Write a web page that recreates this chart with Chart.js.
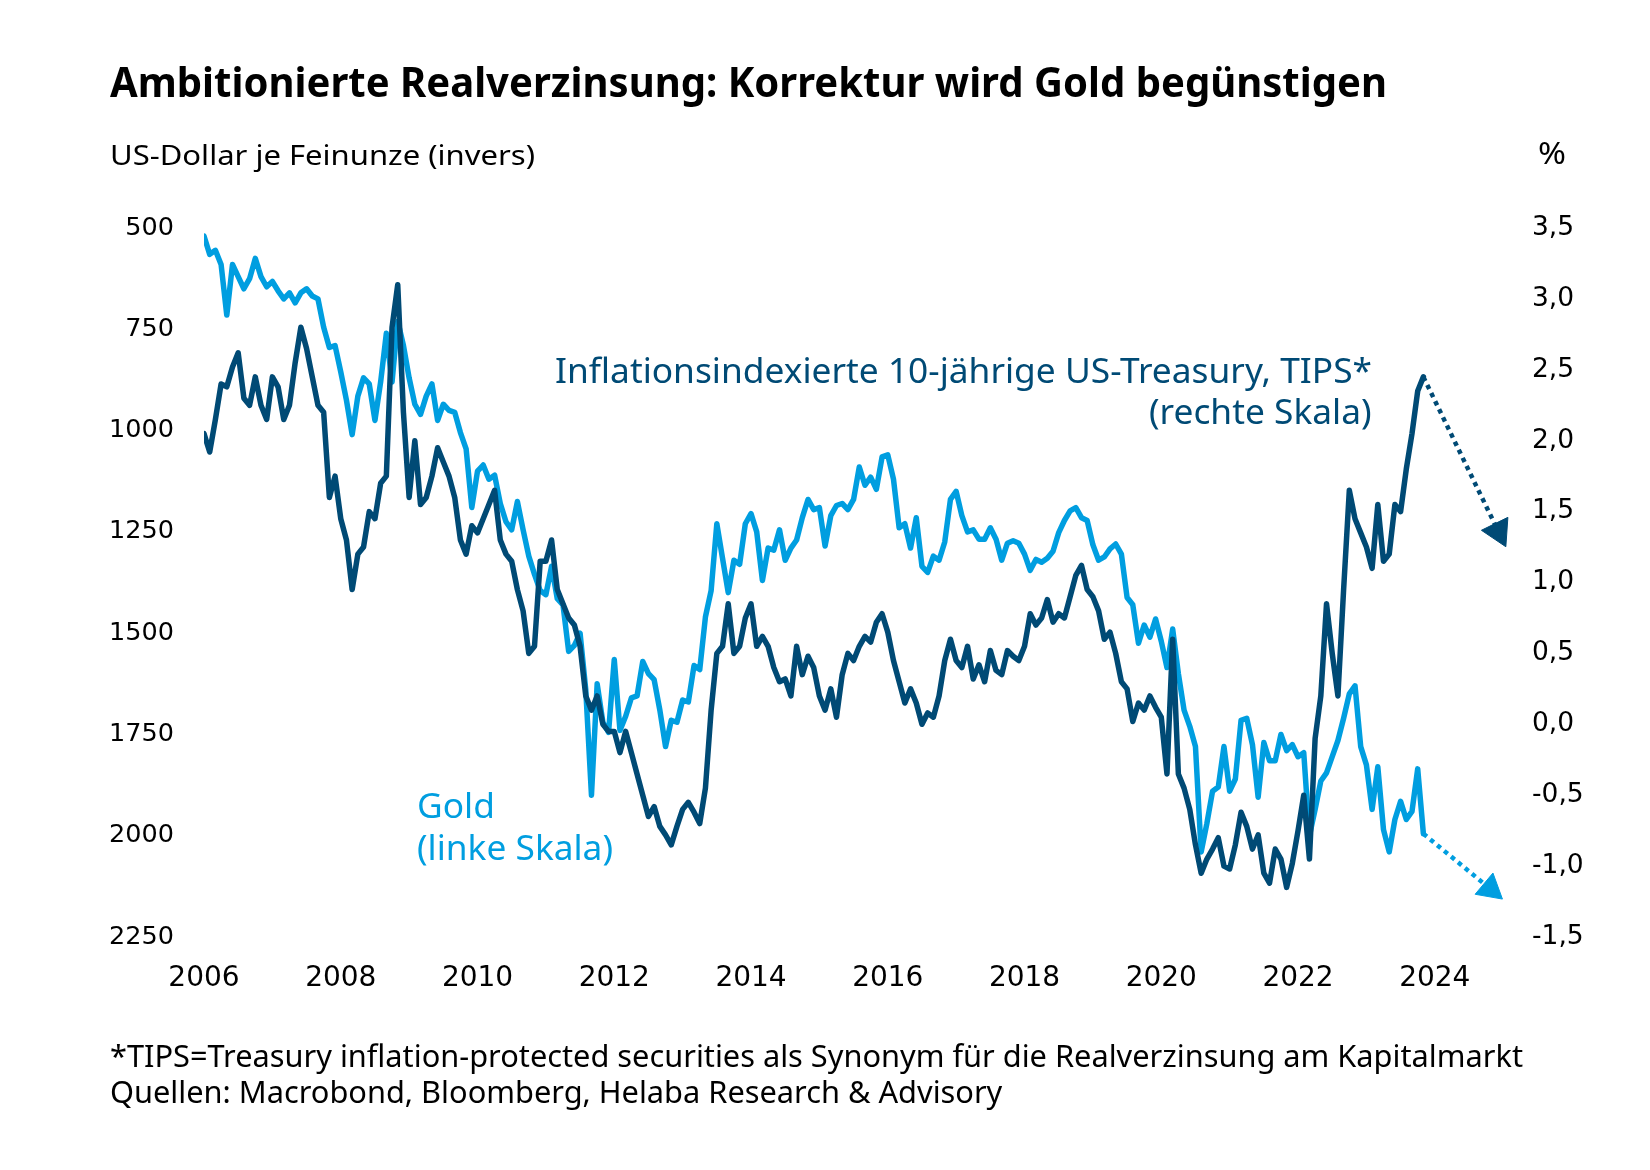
<!DOCTYPE html>
<html lang="de">
<head>
<meta charset="utf-8">
<title>Ambitionierte Realverzinsung: Korrektur wird Gold begünstigen</title>
<script src="https://cdn.jsdelivr.net/npm/chart.js@4.4.1/dist/chart.umd.min.js"></script>
<style>
  html, body { margin: 0; padding: 0; background: #fff; }
  #wrap { position: relative; width: 1650px; height: 1170px; overflow: hidden; background: #fff; }
  #c { position: absolute; left: 0; top: 0; }
  .t { position: absolute; white-space: nowrap; line-height: 1.2; transform-origin: 0 0; font-family: "Noto Sans", "Open Sans", sans-serif; }
</style>
</head>
<body>
<div id="wrap"><canvas id="c" width="1650" height="1170"></canvas></div>
<script>
// ---------------- data (monthly, first value = Jan 2006) ----------------
const firstYear = 2006;
const monthsPerYear = 12;

const yearTicks = [2006, 2008, 2010, 2012, 2014, 2016, 2018, 2020, 2022, 2024];
const goldTicks = [500, 750, 1000, 1250, 1500, 1750, 2000, 2250];
const tipsTicks = [-1.5, -1.0, -0.5, 0.0, 0.5, 1.0, 1.5, 2.0, 2.5, 3.0, 3.5];

// Inflationsindexierte 10-jährige US-Treasury (TIPS), % (rechte Skala)
const tipsValues = [
  2.05, 1.92, 2.15, 2.40, 2.38, 2.52, 2.62, 2.30, 2.25, 2.45, 2.25, 2.15,   // 2006
  2.45, 2.38, 2.15, 2.25, 2.55, 2.80, 2.65, 2.45, 2.25, 2.20, 1.60, 1.75,   // 2007
  1.45, 1.30, 0.95, 1.20, 1.25, 1.50, 1.45, 1.70, 1.75, 2.80, 3.10, 2.20,   // 2008
  1.60, 2.00, 1.55, 1.60, 1.75, 1.95, 1.85, 1.75, 1.60, 1.30, 1.20, 1.40,   // 2009
  1.35, 1.45, 1.55, 1.65, 1.30, 1.20, 1.15, 0.95, 0.80, 0.50, 0.55, 1.15,   // 2010
  1.15, 1.30, 0.95, 0.85, 0.75, 0.70, 0.55, 0.20, 0.10, 0.20, 0.00, -0.05,  // 2011
  -0.05, -0.20, -0.05, -0.20, -0.35, -0.50, -0.65, -0.58, -0.72, -0.78, -0.85, -0.72, // 2012
  -0.60, -0.55, -0.62, -0.70, -0.45, 0.10, 0.50, 0.55, 0.85, 0.50, 0.55, 0.75,  // 2013
  0.85, 0.55, 0.62, 0.55, 0.40, 0.30, 0.32, 0.20, 0.55, 0.35, 0.48, 0.40,   // 2014
  0.20, 0.10, 0.25, 0.05, 0.35, 0.50, 0.45, 0.55, 0.62, 0.58, 0.72, 0.78,   // 2015
  0.65, 0.45, 0.30, 0.15, 0.25, 0.15, 0.00, 0.08, 0.05, 0.20, 0.45, 0.60,   // 2016
  0.45, 0.40, 0.55, 0.32, 0.42, 0.30, 0.52, 0.38, 0.35, 0.52, 0.48, 0.45,   // 2017
  0.55, 0.78, 0.70, 0.75, 0.88, 0.72, 0.78, 0.75, 0.90, 1.05, 1.12, 0.95,   // 2018
  0.90, 0.80, 0.60, 0.65, 0.50, 0.30, 0.25, 0.02, 0.15, 0.10, 0.20, 0.12,   // 2019
  0.05, -0.35, 0.60, -0.35, -0.45, -0.60, -0.85, -1.05, -0.95, -0.88, -0.80, -1.00, // 2020
  -1.02, -0.85, -0.62, -0.72, -0.88, -0.78, -1.05, -1.12, -0.88, -0.95, -1.15, -0.98, // 2021
  -0.75, -0.50, -0.95, -0.10, 0.20, 0.85, 0.50, 0.20, 0.95, 1.65, 1.45, 1.35,  // 2022
  1.25, 1.10, 1.55, 1.15, 1.20, 1.55, 1.50, 1.80, 2.05, 2.35, 2.45             // 2023
];

// Gold, US-Dollar je Feinunze (linke Skala, invers)
const goldValues = [
  520, 565, 555, 590, 715, 590, 620, 650, 625, 575, 620, 645,               // 2006
  632, 655, 675, 660, 685, 660, 650, 668, 675, 745, 795, 790,               // 2007
  855, 925, 1010, 915, 870, 885, 975, 880, 760, 880, 730, 790,              // 2008
  870, 935, 960, 915, 885, 975, 935, 950, 955, 1005, 1045, 1190,            // 2009
  1100, 1085, 1120, 1110, 1180, 1225, 1245, 1175, 1245, 1310, 1355, 1395,   // 2010
  1405, 1335, 1415, 1430, 1545, 1530, 1500, 1640, 1900, 1625, 1720, 1745,   // 2011
  1565, 1740, 1705, 1660, 1655, 1570, 1600, 1615, 1690, 1780, 1715, 1720,   // 2012
  1665, 1670, 1580, 1590, 1460, 1395, 1230, 1315, 1400, 1320, 1330, 1230,   // 2013
  1205, 1250, 1370, 1290, 1295, 1245, 1320, 1290, 1270, 1215, 1170, 1195,   // 2014
  1190, 1285, 1210, 1185, 1180, 1195, 1170, 1090, 1135, 1115, 1145, 1065,   // 2015
  1060, 1120, 1240, 1230, 1290, 1215, 1335, 1350, 1310, 1320, 1275, 1170,   // 2016
  1150, 1210, 1250, 1245, 1268, 1268, 1240, 1268, 1320, 1278, 1272, 1278,   // 2017
  1305, 1345, 1318, 1325, 1315, 1298, 1252, 1222, 1198, 1190, 1215, 1222,   // 2018
  1282, 1320, 1312, 1292, 1280, 1305, 1412, 1430, 1525, 1480, 1510, 1465,   // 2019
  1520, 1585, 1490, 1600, 1690, 1730, 1780, 2040, 1970, 1890, 1880, 1780,   // 2020
  1890, 1860, 1715, 1710, 1775, 1905, 1770, 1815, 1815, 1750, 1790, 1775,   // 2021
  1805, 1795, 2000, 1935, 1865, 1845, 1805, 1765, 1710, 1650, 1630, 1780,   // 2022
  1825, 1935, 1830, 1985, 2040, 1960, 1915, 1960, 1940, 1835, 1995          // 2023
];

// Erwartete Korrektur (gepunktete Pfeile): Start = letzter Wert, Ende = Pfeilspitze
const tipsArrowX = [2023.833, 2024.93];
const tipsArrowY = [2.45, 1.36];
const goldArrowX = [2023.833, 2024.81];
const goldArrowY = [1995, 2131];

// ---------------- styling ----------------
const darkBlue = '#004a75';
const lightBlue = '#009ee0';
const tickFont = 'DejaVu Sans';

const toPoints = vals => vals.map((v, i) => ({ x: firstYear + i / monthsPerYear, y: v }));
const pairPoints = (xs, ys) => xs.map((x, i) => ({ x: x, y: ys[i] }));
const deComma = v => Number(v).toFixed(1).replace('.', ',');

const noGrid = { display: false, drawTicks: false };

new Chart(document.getElementById('c').getContext('2d'), {
  type: 'line',
  data: {
    datasets: [
      {
        label: 'Inflationsindexierte 10-jährige US-Treasury, TIPS*',
        data: toPoints(tipsValues),
        yAxisID: 'y1',
        borderColor: darkBlue,
        borderWidth: 5.5,
        pointRadius: 0,
        tension: 0,
        borderJoinStyle: 'round',
        borderCapStyle: 'round'
      },
      {
        label: 'Gold',
        data: toPoints(goldValues),
        yAxisID: 'y',
        borderColor: lightBlue,
        borderWidth: 5.5,
        pointRadius: 0,
        tension: 0,
        borderJoinStyle: 'round',
        borderCapStyle: 'round'
      },
      {
        label: 'TIPS Pfeil',
        data: pairPoints(tipsArrowX, tipsArrowY),
        yAxisID: 'y1',
        borderColor: darkBlue,
        borderWidth: 4.5,
        borderDash: [4.5, 4.5],
        borderCapStyle: 'butt',
        pointStyle: 'triangle',
        pointRadius: [0, 17],
        pointRotation: [0, 154],
        pointBackgroundColor: darkBlue,
        pointBorderColor: darkBlue,
        pointBorderWidth: 1,
        clip: 0
      },
      {
        label: 'Gold Pfeil',
        data: pairPoints(goldArrowX, goldArrowY),
        yAxisID: 'y',
        borderColor: lightBlue,
        borderWidth: 4.5,
        borderDash: [4.5, 4.5],
        borderCapStyle: 'butt',
        pointStyle: 'triangle',
        pointRadius: [0, 16],
        pointRotation: [0, 130],
        pointBackgroundColor: lightBlue,
        pointBorderColor: lightBlue,
        pointBorderWidth: 1,
        clip: 0
      }
    ]
  },
  options: {
    responsive: false,
    animation: false,
    events: [],
    layout: { padding: { top: 228, left: 0, right: 0, bottom: 0 } },
    plugins: { legend: { display: false }, tooltip: { enabled: false }, title: { display: false } },
    scales: {
      x: {
        type: 'linear',
        min: 2006,
        max: 2025.1,
        grid: noGrid,
        border: { display: false },
        afterBuildTicks: s => { s.ticks = yearTicks.map(v => ({ value: v })); },
        afterFit: s => { s.height = 1170 - 937; },
        ticks: {
          autoSkip: false, maxRotation: 0, minRotation: 0, padding: 25,
          color: '#000', font: { family: tickFont, size: 28 },
          callback: v => String(v)
        }
      },
      y: {
        type: 'linear',
        position: 'left',
        reverse: true,
        min: 500,
        max: 2250,
        grid: noGrid,
        border: { display: false },
        afterBuildTicks: s => { s.ticks = goldTicks.map(v => ({ value: v })); },
        afterFit: s => { s.width = 204; },
        ticks: {
          padding: 30, color: '#000', font: { family: tickFont, size: 25.5 },
          callback: v => String(v)
        }
      },
      y1: {
        type: 'linear',
        position: 'right',
        min: -1.5,
        max: 3.5,
        grid: noGrid,
        border: { display: false },
        afterBuildTicks: s => { s.ticks = tipsTicks.map(v => ({ value: v })); },
        afterFit: s => { s.width = 140; },
        ticks: {
          padding: 22, color: '#000', font: { family: tickFont, size: 26.5 },
          callback: v => deComma(v)
        }
      }
    }
  }
});

// ---------------- texts (real HTML text, placed by baseline) ----------------
const wrap = document.getElementById('wrap');
const scaleMemo = {};
function placeText(t) {
  const el = document.createElement('div');
  el.className = 't';
  el.textContent = t.text;
  el.style.fontSize = t.size + 'px';
  el.style.fontWeight = t.weight || 400;
  el.style.color = t.color || '#000';
  const marker = document.createElement('span');
  marker.style.cssText = 'display:inline-block;width:0;height:0;vertical-align:baseline;';
  el.appendChild(marker);
  wrap.appendChild(el);
  const w = el.getBoundingClientRect().width;
  const base = marker.offsetTop;
  let sx = 1;
  if (t.width) sx = t.width / w;
  else if (t.sameAs && scaleMemo[t.sameAs]) sx = scaleMemo[t.sameAs];
  if (t.id) scaleMemo[t.id] = sx;
  const drawnW = w * sx;
  const left = t.align === 'right' ? t.x - drawnW : t.x;
  el.style.left = left + 'px';
  el.style.top = (t.base - base) + 'px';
  el.style.transform = 'scaleX(' + sx + ')';
}

const texts = [
  { text: 'Ambitionierte Realverzinsung: Korrektur wird Gold begünstigen', x: 110, base: 97, size: 41, weight: 700, width: 1277 },
  { text: 'US-Dollar je Feinunze (invers)', x: 110, base: 165, size: 27.5, width: 425 },
  { text: '%', x: 1538, base: 164, size: 30, width: 28 },
  { id: 'tips', text: 'Inflationsindexierte 10-jährige US-Treasury, TIPS*', x: 1372, align: 'right', base: 383, size: 35, width: 817, color: darkBlue },
  { text: '(rechte Skala)', x: 1372, align: 'right', base: 424, size: 35, sameAs: 'tips', color: darkBlue },
  { id: 'gold', text: '(linke Skala)', x: 417, base: 860, size: 35, width: 196, color: lightBlue },
  { text: 'Gold', x: 417, base: 818, size: 35, sameAs: 'gold', color: lightBlue },
  { id: 'foot', text: '*TIPS=Treasury inflation-protected securities als Synonym für die Realverzinsung am Kapitalmarkt', x: 110, base: 1067, size: 30, width: 1413 },
  { text: 'Quellen: Macrobond, Bloomberg, Helaba Research & Advisory', x: 110, base: 1103, size: 30, sameAs: 'foot' }
];
texts.forEach(placeText);
</script>
</body>
</html>
